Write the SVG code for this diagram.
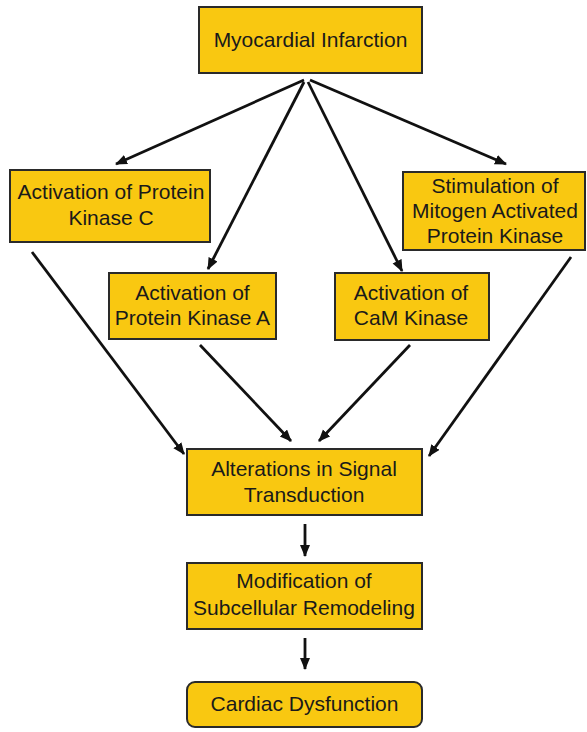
<svg xmlns="http://www.w3.org/2000/svg" width="587" height="732" viewBox="0 0 587 732">
  <style>
    .box { fill: #F9C811; stroke: #2a2a2a; stroke-width: 2; }
    .lbl { font-family: "Liberation Sans", Arial, sans-serif; font-size: 21px; fill: #1a1a1a; text-anchor: middle; }
    .arr { stroke: #111; stroke-width: 2.8; fill: none; marker-end: url(#head); }
  </style>
  <defs>
    <marker id="head" markerUnits="userSpaceOnUse" markerWidth="14" markerHeight="12" refX="11" refY="5" orient="auto">
      <path d="M0,0 L12,5 L0,10 Z" fill="#111"/>
    </marker>
  </defs>
  <rect width="587" height="732" fill="#fff"/>

  <g id="connectors">
    <line class="arr" x1="304" y1="80" x2="116" y2="164"/>
    <line class="arr" x1="310" y1="80" x2="506" y2="164"/>
    <line class="arr" x1="304" y1="82" x2="208" y2="269"/>
    <line class="arr" x1="308" y1="82" x2="402" y2="271"/>
    <line class="arr" x1="32" y1="252" x2="184" y2="454"/>
    <line class="arr" x1="200" y1="345" x2="291" y2="441"/>
    <line class="arr" x1="410" y1="345" x2="319" y2="441"/>
    <line class="arr" x1="571" y1="257" x2="429" y2="456"/>
    <line class="arr" x1="305" y1="524" x2="305" y2="556"/>
    <line class="arr" x1="305" y1="638" x2="305" y2="669"/>
  </g>

  <g id="myocardial-infarction">
    <rect class="box" x="199" y="7" width="223" height="66"/>
    <text class="lbl" x="310.5" y="47">Myocardial Infarction</text>
  </g>

  <g id="pkc">
    <rect class="box" x="10" y="170" width="200" height="72"/>
    <text class="lbl" x="111" y="199">Activation of Protein</text>
    <text class="lbl" x="111" y="225">Kinase C</text>
  </g>

  <g id="pka">
    <rect class="box" x="109" y="273" width="167" height="66"/>
    <text class="lbl" x="192.5" y="300">Activation of</text>
    <text class="lbl" x="192.5" y="325">Protein Kinase A</text>
  </g>

  <g id="cam-kinase">
    <rect class="box" x="335" y="273" width="154" height="67"/>
    <text class="lbl" x="411" y="300">Activation of</text>
    <text class="lbl" x="411" y="325">CaM Kinase</text>
  </g>

  <g id="mapk">
    <rect class="box" x="403" y="172" width="182" height="78"/>
    <text class="lbl" x="495" y="193">Stimulation of</text>
    <text class="lbl" x="495" y="218">Mitogen Activated</text>
    <text class="lbl" x="495" y="243">Protein Kinase</text>
  </g>

  <g id="signal-transduction">
    <rect class="box" x="187" y="449" width="235" height="66"/>
    <text class="lbl" x="304" y="476">Alterations in Signal</text>
    <text class="lbl" x="304" y="502">Transduction</text>
  </g>

  <g id="subcellular-remodeling">
    <rect class="box" x="187" y="563" width="235" height="66"/>
    <text class="lbl" x="304" y="588">Modification of</text>
    <text class="lbl" x="304" y="615">Subcellular Remodeling</text>
  </g>

  <g id="cardiac-dysfunction">
    <rect class="box" x="187" y="682" width="235" height="45" rx="8" ry="8"/>
    <text class="lbl" x="304.5" y="711">Cardiac Dysfunction</text>
  </g>
</svg>
